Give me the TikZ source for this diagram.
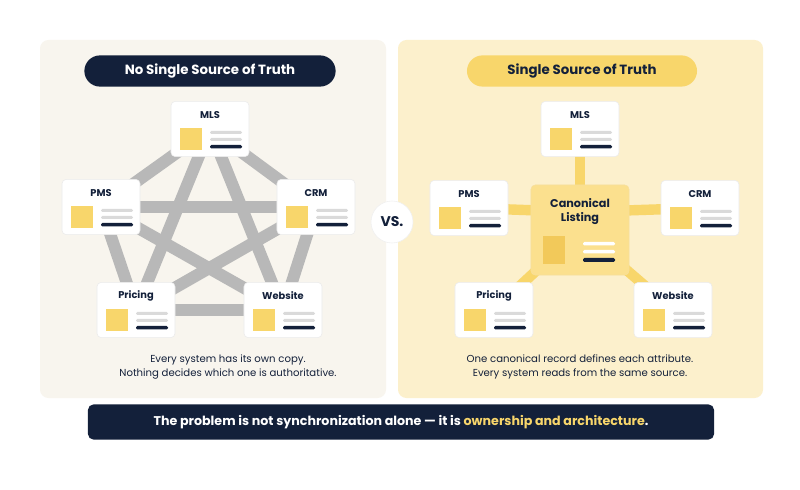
\documentclass[tikz,border=0pt]{standalone}
\usepackage{fontspec}
\setmainfont{Poppins}
\usetikzlibrary{positioning}
\definecolor{navy}{HTML}{13203A}
\definecolor{sun}{HTML}{F8D66B}
\definecolor{sundark}{HTML}{F2C95A}
\definecolor{cream}{HTML}{F8F5EE}
\definecolor{butter}{HTML}{FCF0CC}
\definecolor{canon}{HTML}{FBE08E}
\definecolor{bar}{HTML}{DADADA}
\pgfdeclarelayer{panels}
\pgfdeclarelayer{links}
\pgfsetlayers{panels,links,main}
\tikzset{
  card/.style={draw=black!8,fill=white,rounded corners=3pt,minimum width=1.95cm,minimum height=1.38cm},
  pill/.style={rounded corners=0.39cm,minimum height=0.78cm,font=\bfseries\fontsize{9.5}{12}\selectfont},
  mesh/.style={line width=0.3cm,draw=black!28},
  spoke/.style={line width=0.26cm,draw=sun},
  caption/.style={align=center,font=\fontsize{7.2}{10}\selectfont,text=navy}
}
% card: name, x, y, label
\newcommand\syscard[4]{%
  \node[card] (#1) at (#2,#3) {};
  \node[font=\bfseries\fontsize{7}{9}\selectfont,text=navy] at (#2,#3-14) {#4};
  \begin{scope}[shift={(#2,#3)}]
    \fill[sun] (-30,-1) rectangle (-8,21);
    \fill[bar,rounded corners=1pt] (0,2) rectangle (32,5);
    \fill[bar,rounded corners=1pt] (0,9) rectangle (32,12);
    \fill[navy,rounded corners=1pt] (0,16) rectangle (32,19.5);
  \end{scope}}
\begin{document}
\begin{tikzpicture}[x=0.025cm,y=-0.025cm]
  \useasboundingbox (0,0) rectangle (800,490);
  \begin{pgfonlayer}{panels}
    \fill[white] (0,0) rectangle (800,490);
    \fill[cream,rounded corners=6pt] (40,40) rectangle (386,398);
    \fill[butter,rounded corners=6pt] (398,40) rectangle (763,398);
  \end{pgfonlayer}

  % left: every system keeps a copy
  \node[pill,fill=navy,text=white,minimum width=6.28cm] (lhead) at (210,71) {No Single Source of Truth};
  \syscard{lmls}{210}{129}{MLS}
  \syscard{lpms}{101}{207}{PMS}
  \syscard{lcrm}{316}{207}{CRM}
  \syscard{lpri}{136}{310}{Pricing}
  \syscard{lweb}{283}{310}{Website}
  \begin{pgfonlayer}{links}
    \foreach \a/\b in {lmls/lpms,lmls/lcrm,lmls/lpri,lmls/lweb,lpms/lcrm,lpms/lpri,lpms/lweb,lcrm/lpri,lcrm/lweb,lpri/lweb}
      \draw[mesh] (\a.center) -- (\b.center);
  \end{pgfonlayer}
  \node[caption] (lcap) at (228,367) {Every system has its own copy.\\Nothing decides which one is authoritative.};

  \node[circle,fill=white,draw=black!6,minimum size=1.05cm,font=\bfseries\fontsize{10}{12}\selectfont,text=navy] (vs) at (392,222) {VS.};

  % right: one canonical record
  \node[pill,fill=sun,text=navy,minimum width=5.75cm] (rhead) at (582,71) {Single Source of Truth};
  \node[card,fill=canon,draw=sundark!60,minimum width=2.45cm,minimum height=2.25cm] (canon) at (580,230) {};
  \node[font=\bfseries\fontsize{8}{10}\selectfont,text=navy,align=center] at (580,212) {Canonical\\Listing};
  \fill[sundark] (543,236) rectangle (565,264);
  \fill[white,rounded corners=1pt] (583,242) rectangle (615,245.5);
  \fill[white,rounded corners=1pt] (583,250) rectangle (615,253.5);
  \fill[navy,rounded corners=1pt] (583,258) rectangle (615,262);
  \syscard{rmls}{580}{129}{MLS}
  \syscard{rpms}{469}{208}{PMS}
  \syscard{rcrm}{700}{208}{CRM}
  \syscard{rpri}{494}{310}{Pricing}
  \syscard{rweb}{673}{310}{Website}
  \coordinate (chub) at (580,212);
  \begin{pgfonlayer}{links}
    \foreach \s in {rmls,rpms,rcrm}
      \draw[spoke] (chub) -- (\s.center);
    \foreach \s in {rpri,rweb}
      \draw[spoke] (canon.center) -- (\s.center);
  \end{pgfonlayer}
  \node[caption] (rcap) at (580,367) {One canonical record defines each attribute.\\Every system reads from the same source.};

  % takeaway
  \node[fill=navy,text=white,rounded corners=4pt,minimum width=15.65cm,minimum height=0.88cm,font=\bfseries\fontsize{9}{12}\selectfont] (note) at (401,422) {The problem is not synchronization alone — it is \textcolor{sun}{ownership and architecture}.};
\end{tikzpicture}
\end{document}
